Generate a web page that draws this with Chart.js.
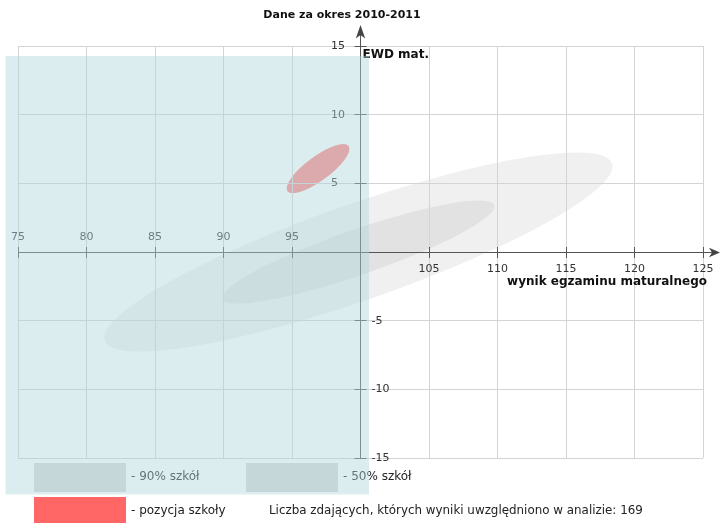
<!DOCTYPE html>
<html>
<head>
<meta charset="utf-8">
<script src="https://cdn.jsdelivr.net/npm/chart.js@4"></script>
<style>
  body { margin: 0; background: #fff; }
  canvas { display: block; }
</style>
</head>
<body>
<canvas id="ewdChart" width="720" height="523"></canvas>
<script>
// texts
var chartTitle = 'Dane za okres 2010-2011';
var xAxisTitle = 'wynik egzaminu maturalnego';
var yAxisTitle = 'EWD mat.';
var footNote = 'Liczba zdających, których wyniki uwzględniono w analizie: 169';

// ellipses (axis units): 90% of schools, 50% of schools, this school
var shapeNames = ['90% szkół', '50% szkół', 'pozycja szkoły'];
var centerX = [99.85, 99.85, 96.9];
var centerY = [0, 0, 6.07];
var halfLength = [19.6, 10.5, 2.78];
var halfWidth = [3.5, 1.65, 0.88];
var tiltDeg = [19.2, 19.0, 36.5];

// tick labels (the value where the axes cross is not labelled)
var xTickLabels = [75, 80, 85, 90, 95, 105, 110, 115, 120, 125];
var yTickLabels = [15, 10, 5, -5, -10, -15];

var fills = ['#f0f0f0', '#e2e2e2', 'rgba(255, 102, 102, 0.8)'];
var font = 'DejaVu Sans';

var ellipsePlugin = {
    id: 'ellipses',
    beforeDraw: function(chart) {
        var ctx = chart.ctx;
        var xs = chart.scales.x, ys = chart.scales.y;
        chart.data.datasets.forEach(function(ds, i) {
            var p = ds.data[0];
            var px = xs.getPixelForValue(p.x), py = ys.getPixelForValue(p.y);
            var kx = xs.getPixelForValue(p.x + 1) - px;
            var ky = py - ys.getPixelForValue(p.y + 1);
            ctx.save();
            ctx.translate(px, py);
            ctx.scale(kx, -ky);
            ctx.rotate(tiltDeg[i] * Math.PI / 180);
            ctx.beginPath();
            ctx.ellipse(0, 0, halfLength[i], halfWidth[i], 0, 0, Math.PI * 2);
            ctx.restore();
            ctx.fillStyle = fills[i];
            ctx.fill();
        });
    }
};

function arrowUp(ctx, x, tip) {
    ctx.beginPath();
    ctx.moveTo(x, tip);
    ctx.lineTo(x + 4.7, tip + 13.5);
    ctx.lineTo(x, tip + 10);
    ctx.lineTo(x - 4.7, tip + 13.5);
    ctx.closePath();
    ctx.fill();
}

function arrowRight(ctx, tip, y) {
    ctx.beginPath();
    ctx.moveTo(tip, y);
    ctx.lineTo(tip - 11, y - 4.7);
    ctx.lineTo(tip - 8, y);
    ctx.lineTo(tip - 11, y + 4.7);
    ctx.closePath();
    ctx.fill();
}

var axesPlugin = {
    id: 'centerAxes',
    afterDatasetsDraw: function(chart) {
        var ctx = chart.ctx;
        var xs = chart.scales.x, ys = chart.scales.y, area = chart.chartArea;
        var x0 = Math.floor(xs.getPixelForValue(100)) + 0.5;
        var y0 = Math.floor(ys.getPixelForValue(0)) + 0.5;
        ctx.save();
        ctx.strokeStyle = '#555';
        ctx.fillStyle = '#444';
        ctx.lineWidth = 1;
        // axis lines
        ctx.beginPath();
        ctx.moveTo(area.left, y0);
        ctx.lineTo(714, y0);
        ctx.moveTo(x0, area.bottom);
        ctx.lineTo(x0, 30);
        ctx.stroke();
        arrowUp(ctx, x0, 25);
        arrowRight(ctx, 720, y0);
        // tick marks
        ctx.beginPath();
        xTickLabels.forEach(function(v) {
            var px = Math.floor(xs.getPixelForValue(v)) + 0.5;
            ctx.moveTo(px, y0 - 5.5);
            ctx.lineTo(px, y0 + 5.5);
        });
        yTickLabels.forEach(function(v) {
            var py = Math.floor(ys.getPixelForValue(v)) + 0.5;
            ctx.moveTo(x0 - 6, py);
            ctx.lineTo(x0 + 6, py);
        });
        ctx.stroke();
        // tick labels
        ctx.fillStyle = '#333';
        ctx.font = '11px "' + font + '"';
        ctx.textBaseline = 'middle';
        ctx.textAlign = 'center';
        xTickLabels.forEach(function(v) {
            var px = xs.getPixelForValue(v);
            ctx.fillText(String(v), px, v < 100 ? y0 - 15 : y0 + 17);
        });
        ctx.textAlign = 'left';
        yTickLabels.forEach(function(v) {
            var py = ys.getPixelForValue(v);
            ctx.fillText(String(v), v > 0 ? x0 - 29.5 : x0 + 11, py);
        });
        // axis titles and chart title
        ctx.fillStyle = '#111';
        ctx.font = 'bold 12px "' + font + '"';
        ctx.fillText(yAxisTitle, x0 + 2, 54.5);
        ctx.textAlign = 'right';
        ctx.fillText(xAxisTitle, 707, y0 + 29);
        ctx.textAlign = 'center';
        ctx.font = 'bold 11px "' + font + '"';
        ctx.fillText(chartTitle, 342, 15);
        // legend
        ctx.fillStyle = '#d8d8d8';
        ctx.fillRect(34, 463, 92, 29);
        ctx.fillRect(246, 463, 92, 29);
        ctx.fillStyle = '#ff6666';
        ctx.fillRect(34, 497, 92, 26);
        ctx.fillStyle = '#222';
        ctx.textAlign = 'left';
        ctx.font = '12px "' + font + '"';
        ctx.fillText('- ' + shapeNames[0], 131, 477);
        ctx.fillText('- ' + shapeNames[1], 343, 477);
        ctx.fillText('- ' + shapeNames[2], 131, 510.5);
        ctx.font = '11.9px "' + font + '"';
        ctx.fillText(footNote, 269, 510.5);
        ctx.restore();
    },
    afterDraw: function(chart) {
        // pale blue highlight laid over the left part of the picture
        var ctx = chart.ctx;
        ctx.save();
        ctx.fillStyle = 'rgba(177, 215, 222, 0.45)';
        ctx.fillRect(5.5, 56, 363.5, 438.5);
        ctx.restore();
    }
};

var ctx = document.getElementById('ewdChart').getContext('2d');
var ewdChart = new Chart(ctx, {
    type: 'scatter',
    data: {
        datasets: shapeNames.map(function(name, i) {
            return {
                label: name,
                data: [{x: centerX[i], y: centerY[i]}],
                pointRadius: 0
            };
        })
    },
    options: {
        responsive: false,
        animation: false,
        events: [],
        layout: {
            padding: {left: 18, right: 17, top: 46, bottom: 65}
        },
        plugins: {
            legend: {display: false},
            tooltip: {enabled: false}
        },
        scales: {
            x: {
                type: 'linear',
                min: 75,
                max: 125,
                ticks: {stepSize: 5, display: false},
                grid: {color: '#d4d4d4', drawTicks: false},
                border: {display: false}
            },
            y: {
                type: 'linear',
                min: -15,
                max: 15,
                ticks: {stepSize: 5, display: false},
                grid: {color: '#d4d4d4', drawTicks: false},
                border: {display: false}
            }
        }
    },
    plugins: [ellipsePlugin, axesPlugin]
});
</script>
</body>
</html>
